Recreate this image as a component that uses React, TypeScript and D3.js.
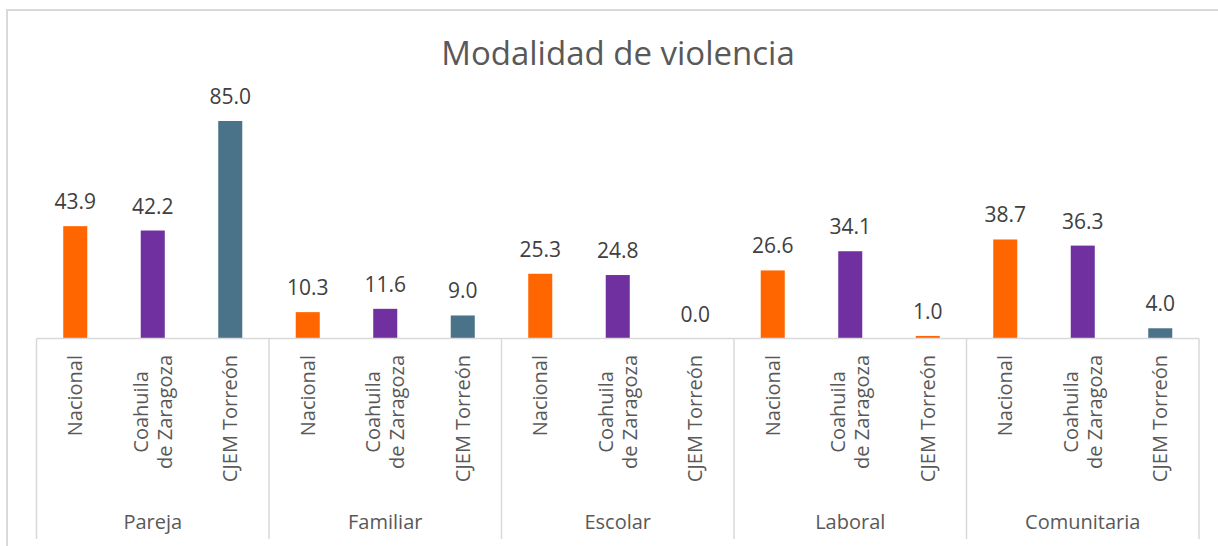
import React, { useEffect, useRef } from "react";
import * as d3 from "d3";

// chart data
const groups = ["Pareja", "Familiar", "Escolar", "Laboral", "Comunitaria"];
const series = ["Nacional", "Coahuila de Zaragoza", "CJEM Torreón"];
const nacional = [43.9, 10.3, 25.3, 26.6, 38.7];
const coahuila = [42.2, 11.6, 24.8, 34.1, 36.3];
const cjem = [85.0, 9.0, 0.0, 1.0, 4.0];
const yTicks = [0, 90];

const seriesColors = ["#FF6600", "#7030A0", "#4A7389"];
// Excel had one point recoloured
const pointColor: Record<string, string> = { "Laboral|CJEM Torreón": "#FF6600" };

const seriesLines: Record<string, string[]> = {
  Nacional: ["Nacional"],
  "Coahuila de Zaragoza": ["Coahuila", "de Zaragoza"],
  "CJEM Torreón": ["CJEM Torreón"],
};

const App = () => {
  const ref = useRef<SVGSVGElement>(null);

  useEffect(() => {
    const width = 1218;
    const height = 546;
    const marginLeft = 36.5;
    const marginRight = 19;
    const baseY = 338.5;
    const plotTop = 108.2;
    const font = "'Open Sans', sans-serif";

    const values = [nacional, coahuila, cjem];
    const rows = groups.flatMap((g, gi) =>
      series.map((s, si) => ({ group: g, series: s, si, value: values[si][gi], key: g + "|" + s }))
    );

    const svg = d3.select(ref.current);
    svg.selectAll("*").remove();
    svg.attr("width", width).attr("height", height).attr("viewBox", [0, 0, width, height]);

    const xGroup = d3
      .scaleBand()
      .domain(groups)
      .range([marginLeft, width - marginRight])
      .padding(0);

    const x = d3
      .scaleBand()
      .domain(rows.map((d) => d.key))
      .range([marginLeft, width - marginRight])
      .paddingInner(0.69)
      .paddingOuter(0.345);

    const y = d3.scaleLinear().domain([yTicks[0], yTicks[1]]).range([baseY, plotTop]);

    // chart border (only top + left visible)
    svg
      .append("path")
      .attr("d", `M7,${height} L7,10 L${width},10`)
      .attr("fill", "none")
      .attr("stroke", "#d9d9d9")
      .attr("stroke-width", 2);

    // title
    svg
      .append("text")
      .attr("x", 618)
      .attr("y", 65)
      .attr("text-anchor", "middle")
      .attr("font-family", font)
      .attr("font-size", 33)
      .attr("fill", "#595959")
      .text("Modalidad de violencia");

    // bars
    svg
      .append("g")
      .selectAll("rect")
      .data(rows)
      .join("rect")
      .attr("x", (d) => x(d.key)!)
      .attr("width", x.bandwidth())
      .attr("y", (d) => y(d.value))
      .attr("height", (d) => y(0) - y(d.value))
      .attr("fill", (d) => pointColor[d.key] || seriesColors[d.si]);

    // data labels
    svg
      .append("g")
      .selectAll("text")
      .data(rows)
      .join("text")
      .attr("x", (d) => x(d.key)! + x.bandwidth() / 2)
      .attr("y", (d) => y(d.value) - 17)
      .attr("text-anchor", "middle")
      .attr("font-family", font)
      .attr("font-size", 21)
      .attr("fill", "#404040")
      .text((d) => d.value.toFixed(1));

    // axis lines
    const axis = svg.append("g").attr("stroke", "#d9d9d9").attr("stroke-width", 1.5);
    axis
      .append("line")
      .attr("x1", marginLeft)
      .attr("x2", width - marginRight)
      .attr("y1", baseY)
      .attr("y2", baseY);
    axis
      .selectAll("line.sep")
      .data([...groups.map((g) => xGroup(g)!), width - marginRight])
      .join("line")
      .attr("class", "sep")
      .attr("x1", (d) => d)
      .attr("x2", (d) => d)
      .attr("y1", baseY)
      .attr("y2", 539);

    // rotated category labels
    const labelTop = 355;
    const catG = svg.append("g").attr("font-family", font).attr("font-size", 20).attr("fill", "#595959");
    rows.forEach((d) => {
      const lines = seriesLines[d.series];
      const cx = x(d.key)! + x.bandwidth() / 2;
      const lh = 24;
      const t = catG.append("text").attr("text-anchor", "middle");
      lines.forEach((line, i) => {
        t.append("tspan")
          .attr("x", 0)
          .attr("y", (i - (lines.length - 1) / 2) * lh)
          .attr("dy", "0.35em")
          .text(line);
      });
      const len = d3.max(t.selectAll<SVGTSpanElement, unknown>("tspan").nodes(), (n) => n.getComputedTextLength()) || 0;
      t.attr("transform", `translate(${cx},${labelTop + len / 2}) rotate(-90)`);
    });

    // group labels
    svg
      .append("g")
      .selectAll("text")
      .data(groups)
      .join("text")
      .attr("x", (g) => xGroup(g)! + xGroup.bandwidth() / 2)
      .attr("y", 529)
      .attr("text-anchor", "middle")
      .attr("font-family", font)
      .attr("font-size", 20)
      .attr("fill", "#595959")
      .text((g) => g);
  }, []);

  return (
    <div style={{ position: "absolute", left: 0, top: 0, background: "#fff" }}>
      <svg ref={ref} style={{ display: "block" }}></svg>
    </div>
  );
};

export default App;
